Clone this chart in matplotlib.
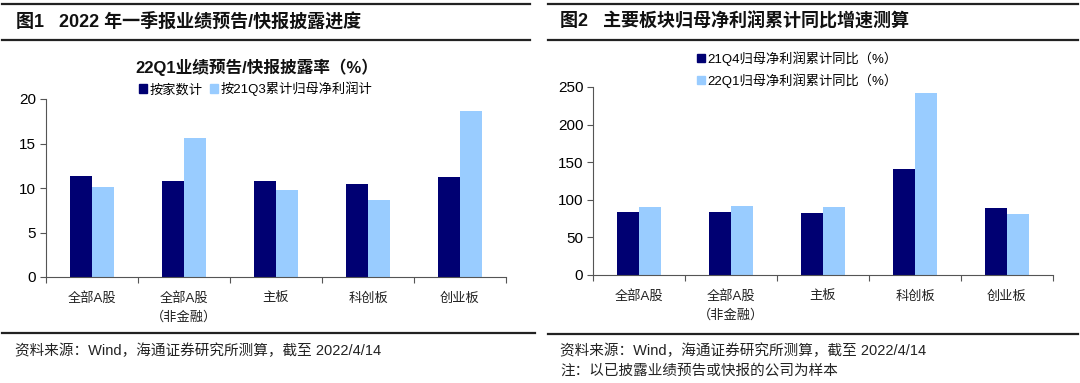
import matplotlib
matplotlib.use("Agg")
import matplotlib.pyplot as plt
from matplotlib.lines import Line2D
from matplotlib.patches import Patch
import numpy as np

plt.rcParams['font.family'] = ['Liberation Sans', 'Noto Sans CJK SC', 'DejaVu Sans']

# ---- data ----
categories = ['全部A股', '全部A股\n（非金融）', '主板', '科创板', '创业板']
left_series_names = ['按家数计', '按21Q3累计归母净利润计']
left_by_count = [11.3, 10.8, 10.8, 10.4, 11.2]
left_by_profit = [10.1, 15.6, 9.8, 8.7, 18.7]
right_series_names = ['21Q4归母净利润累计同比（%）', '22Q1归母净利润累计同比（%）']
right_21q4 = [83.5, 84.0, 82.0, 141.0, 89.0]
right_22q1 = [91.0, 91.5, 90.0, 242.0, 81.0]
left_yticks = [0, 5, 10, 15, 20]
right_yticks = [0, 50, 100, 150, 200, 250]

title_left = '图1   2022 年一季报业绩预告/快报披露进度'
title_right = '图2   主要板块归母净利润累计同比增速测算'
chart_title_left = '22Q1业绩预告/快报披露率（%）'
source_text = '资料来源：Wind，海通证券研究所测算，截至 2022/4/14'
note_text = '注：以已披露业绩预告或快报的公司为样本'

DARK = '#000072'
LIGHT = '#99CCFF'
W, H = 1080, 383

fig = plt.figure(figsize=(W / 100, H / 100), dpi=100)


def fx(px):
    return px / W


def fy(py):
    return 1 - py / H


def hline(x0, x1, y, lw=1.6):
    fig.add_artist(Line2D([fx(x0), fx(x1)], [fy(y), fy(y)], color='#222222', lw=lw,
                          transform=fig.transFigure))


def style_axes(ax, ylim, yticks):
    ax.set_ylim(*ylim)
    ax.set_yticks(yticks)
    ax.set_xlim(-0.5, len(categories) - 0.5)
    for s in ['top', 'right']:
        ax.spines[s].set_visible(False)
    for s in ['left', 'bottom']:
        ax.spines[s].set_color('#555555')
        ax.spines[s].set_linewidth(0.8)
    ax.tick_params(axis='y', length=4, width=0.8, color='#555555', labelsize=11, pad=3)
    ax.set_xticks(np.arange(len(categories) + 1) - 0.5, minor=False)
    ax.set_xticklabels([])
    ax.tick_params(axis='x', length=4, width=0.8, color='#555555')
    ax.set_xticks(np.arange(len(categories)), minor=True)
    ax.set_xticklabels(categories, minor=True, fontsize=9.5, color='#222222', linespacing=1.6)
    ax.tick_params(axis='x', which='minor', length=0, pad=11)


x = np.arange(len(categories))
bw = 0.24

# ---- left chart ----
axL = fig.add_axes([fx(46), fy(277), fx(506) - fx(46), fy(99) - fy(277)])
axL.bar(x - bw / 2, left_by_count, bw, color=DARK, label=left_series_names[0])
axL.bar(x + bw / 2, left_by_profit, bw, color=LIGHT, label=left_series_names[1])
style_axes(axL, (0, 20), left_yticks)

# ---- right chart ----
axR = fig.add_axes([fx(593), fy(275), fx(1053) - fx(593), fy(87) - fy(275)])
axR.bar(x - bw / 2, right_21q4, bw, color=DARK, label=right_series_names[0])
axR.bar(x + bw / 2, right_22q1, bw, color=LIGHT, label=right_series_names[1])
style_axes(axR, (0, 250), right_yticks)

# ---- legends ----
hL = [Patch(color=DARK), Patch(color=LIGHT)]
fig.legend(hL, left_series_names, loc='center left', bbox_to_anchor=(fx(139), fy(89)),
           ncol=2, frameon=False, fontsize=9.5, handlelength=0.6, handleheight=0.6,
           handletextpad=0.2, columnspacing=0.6, borderaxespad=0, borderpad=0)
fig.legend(hL, right_series_names, loc='upper left', bbox_to_anchor=(fx(697), fy(51)),
           ncol=1, frameon=False, fontsize=9.5, handlelength=0.6, handleheight=0.6,
           handletextpad=0.2, labelspacing=0.55, borderaxespad=0, borderpad=0)

# ---- titles and frame lines ----
hline(2, 530, 4)
hline(2, 530, 40)
hline(548, 1078, 4)
hline(548, 1078, 40)
hline(2, 535, 333)
hline(548, 1078, 334)

fig.text(fx(16), fy(21), title_left, fontsize=13, fontweight='bold', va='center', ha='left',
         color='#111111')
fig.text(fx(560), fy(21), title_right, fontsize=13, fontweight='bold', va='center', ha='left',
         color='#111111')
fig.text(fx(257), fy(67), chart_title_left, fontsize=12, fontweight='bold', va='center',
         ha='center', color='#111111')

fig.text(fx(15), fy(351), source_text, fontsize=10.5, va='center', ha='left', color='#222222')
fig.text(fx(560), fy(351), source_text, fontsize=10.5, va='center', ha='left', color='#222222')
fig.text(fx(560), fy(371), note_text, fontsize=10.5, va='center', ha='left', color='#222222')

fig.savefig('out.png', dpi=100, facecolor='white')
